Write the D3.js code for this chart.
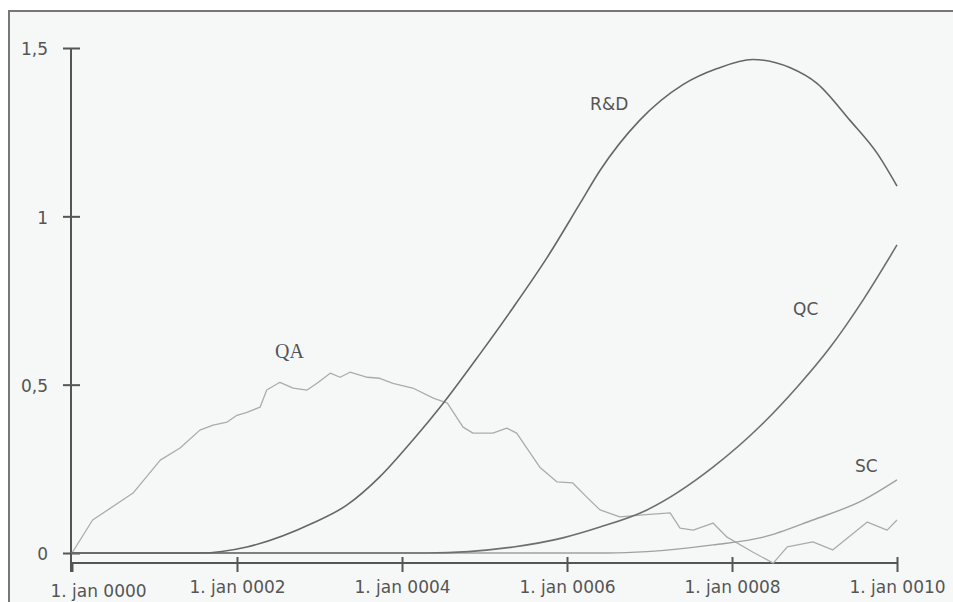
<!DOCTYPE html>
<html>
<head>
<meta charset="utf-8">
<script src="https://cdn.jsdelivr.net/npm/d3@7"></script>
<style>
  body { margin: 0; background: #ffffff; }
  #chart1 { width: 953px; height: 602px; }
</style>
</head>
<body>
<div id="chart1"></div>
<script>
// values: [year, value]
const rdData = [[0, 0], [1.55, 0], [2.12, 0.018], [2.92, 0.089], [3.33, 0.142], [3.73, 0.226],
  [4.13, 0.335], [4.5, 0.445], [4.95, 0.593], [5.35, 0.73], [5.76, 0.878], [6.16, 1.039],
  [6.4, 1.136], [6.88, 1.285], [7.41, 1.392], [7.82, 1.439], [8.25, 1.466], [8.7, 1.442],
  [9.03, 1.395], [9.43, 1.285], [9.76, 1.187], [10, 1.09]]

const qcData = [[0, 0], [4.3, 0], [5.35, 0.018], [5.95, 0.045], [6.4, 0.077], [6.97, 0.128],
  [7.77, 0.255], [8.38, 0.386], [8.79, 0.493], [9.19, 0.611], [9.59, 0.752], [10, 0.915]]

const scData = [[0, 0], [6.5, 0], [6.97, 0.004], [7.77, 0.024], [8.38, 0.047], [8.98, 0.098],
  [9.59, 0.157], [10, 0.217]]

const qaData = [[0, 0], [0.25, 0.098], [0.74, 0.178], [1.07, 0.276], [1.31, 0.312], [1.55, 0.365],
  [1.71, 0.38], [1.88, 0.389], [2.0, 0.409], [2.12, 0.418], [2.28, 0.433], [2.36, 0.484],
  [2.52, 0.507], [2.68, 0.49], [2.85, 0.484], [2.97, 0.504], [3.13, 0.534], [3.25, 0.522],
  [3.37, 0.537], [3.58, 0.522], [3.73, 0.519], [3.89, 0.504], [4.13, 0.49], [4.38, 0.46],
  [4.55, 0.445], [4.74, 0.374], [4.86, 0.356], [5.1, 0.356], [5.27, 0.371], [5.39, 0.356],
  [5.67, 0.255], [5.88, 0.211], [6.07, 0.208], [6.24, 0.166], [6.4, 0.128], [6.64, 0.107],
  [6.92, 0.113], [7.25, 0.119], [7.37, 0.074], [7.53, 0.068], [7.77, 0.089], [7.94, 0.047],
  [8.25, 0.003], [8.5, -0.03], [8.67, 0.018], [8.98, 0.033], [9.22, 0.009], [9.64, 0.092],
  [9.88, 0.068], [10, 0.098]]

const seriesNames = ['R&D', 'QC', 'SC', 'QA']
const xTicks = [0, 2, 4, 6, 8, 10]
const xTickLabels = ['1. jan 0000', '1. jan 0002', '1. jan 0004', '1. jan 0006', '1. jan 0008', '1. jan 0010']
const yTicks = [0, 0.5, 1, 1.5]
const yTickLabels = ['0', '0,5', '1', '1,5']

const createChart = () => {
  const id = '#chart1'
  const width = 953
  const height = 602
  const axisColor = '#555'
  const font = 'DejaVu Sans, Verdana, sans-serif'

  const wrapper = d3.select(id).append('svg')
    .attr('width', width)
    .attr('height', height)

  // frame
  wrapper.append('rect')
    .attr('x', 9).attr('y', 11)
    .attr('width', width).attr('height', height)
    .attr('fill', '#f6f8f8')
    .attr('stroke', '#777')
    .attr('stroke-width', 2)

  // scales
  const xScale = d3.scaleLinear().domain([0, 10]).range([72, 897])
  const yScale = d3.scaleLinear().domain([0, 1.5]).range([553, 48])
  const xAxisY = 563

  // y axis
  const yAxis = wrapper.append('g')
    .attr('transform', `translate(${xScale(0) - 1},0)`)
    .call(d3.axisLeft(yScale).tickValues(yTicks)
      .tickFormat((d, i) => yTickLabels[i]).tickSize(8).tickPadding(15))
  yAxis.select('.domain').remove()
  yAxis.append('line')
    .attr('y1', yScale(1.5)).attr('y2', xAxisY + 9)
    .attr('stroke', axisColor).attr('stroke-width', 2)
  yAxis.selectAll('.tick line').attr('x1', -8).attr('x2', 9)
    .attr('stroke', axisColor).attr('stroke-width', 2)
  yAxis.selectAll('.tick text')
    .attr('fill', axisColor).attr('dy', '0.4em')
    .style('font-family', font).style('font-size', '17px')

  // x axis
  const xAxis = wrapper.append('g')
    .attr('transform', `translate(0,${xAxisY})`)
    .call(d3.axisBottom(xScale).tickValues(xTicks)
      .tickFormat((d, i) => xTickLabels[i]).tickSize(9).tickPadding(9))
  xAxis.select('.domain')
    .attr('d', `M${xScale(0) - 1},0H${xScale(10)}`)
    .attr('stroke', axisColor).attr('stroke-width', 2)
  xAxis.selectAll('.tick line')
    .attr('y1', (d) => (d === 0 ? 0 : -6))
    .attr('stroke', axisColor).attr('stroke-width', 2)
  xAxis.selectAll('.tick text')
    .attr('fill', axisColor)
    .attr('dx', (d) => (d === 0 ? 26 : 0))
    .attr('dy', (d) => (d === 0 ? '0.95em' : '0.71em'))
    .style('font-family', font).style('font-size', '17px')

  // lines
  const smooth = d3.line()
    .x((d) => xScale(d[0]))
    .y((d) => yScale(d[1]))
    .curve(d3.curveMonotoneX)
  const jagged = d3.line()
    .x((d) => xScale(d[0]))
    .y((d) => yScale(d[1]))

  const plot = wrapper.append('g').attr('fill', 'none').attr('stroke-linejoin', 'round')
  plot.append('path').attr('d', jagged(qaData)).attr('stroke', '#ababab').attr('stroke-width', 1.3)
  plot.append('path').attr('d', smooth(scData)).attr('stroke', '#a0a0a0').attr('stroke-width', 1.4)
  plot.append('path').attr('d', smooth(qcData)).attr('stroke', '#6e6e6e').attr('stroke-width', 1.6)
  plot.append('path').attr('d', smooth(rdData)).attr('stroke', '#666').attr('stroke-width', 1.6)

  // series labels, anchored in data units
  const labelAt = [[6.28, 1.315], [8.74, 0.706], [9.49, 0.24], [2.46, 0.579]]
  wrapper.append('g').selectAll('text')
    .data(seriesNames)
    .join('text')
    .attr('x', (d, i) => xScale(labelAt[i][0]))
    .attr('y', (d, i) => yScale(labelAt[i][1]))
    .attr('fill', axisColor)
    .style('font-family', (d) => (d === 'QA' ? 'Liberation Serif, Times New Roman, serif' : font))
    .style('font-size', (d) => (d === 'QA' ? '20px' : '17px'))
    .text((d) => d)
}

createChart()
</script>
</body>
</html>
